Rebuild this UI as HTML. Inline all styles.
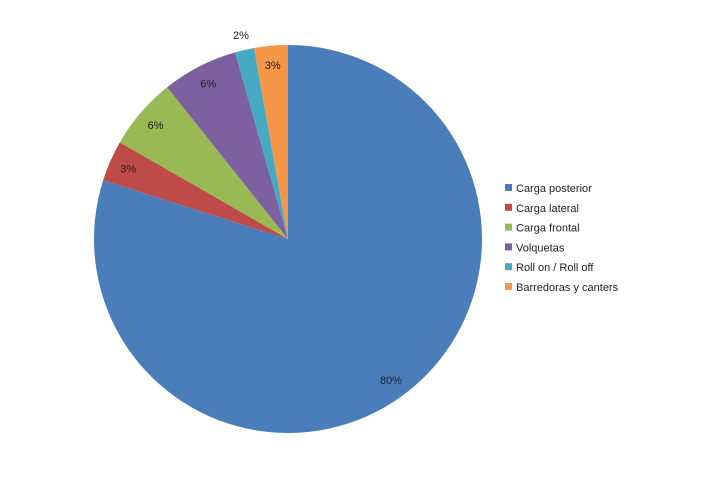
<!DOCTYPE html>
<html><head><meta charset="utf-8"><style>
body{margin:0;background:#fff;width:718px;height:478px;overflow:hidden;font-family:"Liberation Sans",sans-serif}
</style></head><body>
<svg id="chart" width="718" height="478" xmlns="http://www.w3.org/2000/svg"></svg>
<script>
const categories=["Carga posterior","Carga lateral","Carga frontal","Volquetas","Roll on / Roll off","Barredoras y canters"];
const values=[79.9,3.4,6.0,6.3,1.6,2.8];
const labels=["80%","3%","6%","6%","2%","3%"];
const colors=["#4a7ebb","#be4b48","#98b954","#7d60a0","#46aac5","#f79646"];
const svg=document.getElementById('chart');
const NS="http://www.w3.org/2000/svg";
const cx=288,cy=239,r=194;
const total=values.reduce((a,b)=>a+b,0);
let acc=0;
values.forEach((v,i)=>{
  const a0=acc/total*2*Math.PI; acc+=v; const a1=acc/total*2*Math.PI;
  const p0=[cx+r*Math.sin(a0),cy-r*Math.cos(a0)], p1=[cx+r*Math.sin(a1),cy-r*Math.cos(a1)];
  const large=(a1-a0)>Math.PI?1:0;
  const path=document.createElementNS(NS,'path');
  path.setAttribute('d',`M${cx},${cy}L${p0[0]},${p0[1]}A${r},${r} 0 ${large} 1 ${p1[0]},${p1[1]}Z`);
  path.setAttribute('fill',colors[i]);
  
  
  svg.appendChild(path);
});
acc=0;
values.forEach((v,i)=>{
  const am=(acc+v/2)/total*2*Math.PI; acc+=v;
  const rad=i===4?1.08*r:0.9*r;
  const t=document.createElementNS(NS,'text');
  t.setAttribute('x',cx+rad*Math.sin(am)); t.setAttribute('y',cy-rad*Math.cos(am)+4);
  t.setAttribute('text-anchor','middle'); t.setAttribute('font-size','11');
  t.setAttribute('fill','#222');
  
  
  t.textContent=labels[i];
  svg.appendChild(t);
});
categories.forEach((c,i)=>{
  const y=188+i*19.8;
  const g=document.createElementNS(NS,'g');
  
  
  const rc=document.createElementNS(NS,'rect');
  rc.setAttribute('x',505);rc.setAttribute('y',y-4);rc.setAttribute('width',7);rc.setAttribute('height',7);rc.setAttribute('fill',colors[i]);
  const t=document.createElementNS(NS,'text');
  t.setAttribute('x',516);t.setAttribute('y',y+4);t.setAttribute('font-size','11');t.setAttribute('fill','#222');
  t.textContent=c;
  g.appendChild(rc);g.appendChild(t);svg.appendChild(g);
});
</script>
</body></html>
